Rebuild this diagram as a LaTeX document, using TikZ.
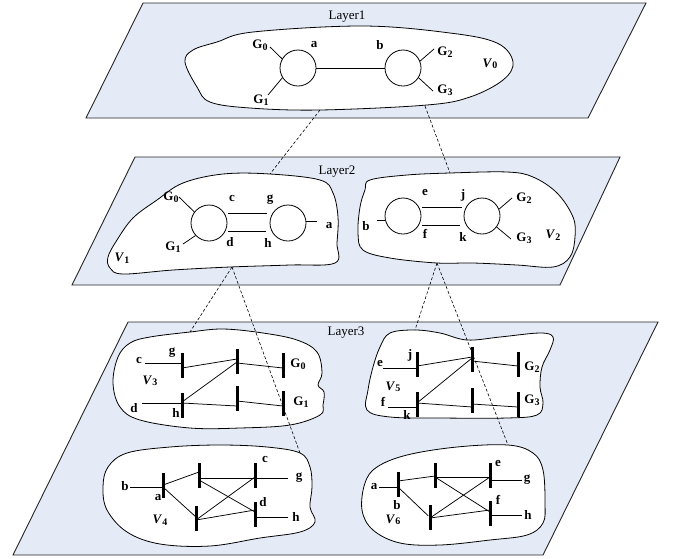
\documentclass[tikz,border=0pt]{standalone}
\usepackage{fontspec}
\setmainfont{Liberation Serif}
\usetikzlibrary{calc}
\definecolor{layerfill}{RGB}{228,235,246}
\newcommand\Gl[1]{G\raisebox{-0.25ex}{\fontsize{10}{10}\selectfont #1}}
\newcommand\Vl[1]{\textit{V}\raisebox{-0.25ex}{\fontsize{10}{10}\selectfont #1}}
\begin{document}
\begin{tikzpicture}[x=1pt,y=-1pt,
 layer/.style={draw=black!85, line width=0.9pt, fill=layerfill},
 blob/.style={draw=black, line width=0.8pt, fill=white},
 lbl/.style={font=\fontsize{13}{15}\selectfont\bfseries, inner sep=0pt},
 laylbl/.style={font=\fontsize{13}{15}\selectfont, inner sep=0pt},
 bus/.style={circle, draw, line width=0.8pt, minimum size=36pt, inner sep=0pt},
 busbar/.style={rectangle, fill=black, minimum width=3pt, minimum height=25pt, inner sep=0pt},
 wire/.style={line width=0.75pt},
 link/.style={line width=0.6pt, dash pattern=on 3pt off 2pt}]
\useasboundingbox (0,0) rectangle (677,558);

% ---------- layers ----------
\draw[layer] (143,3) -- (646,3) -- (588,118) -- (86,118) -- cycle;
\draw[layer] (135,157) -- (620,157) -- (560,285) -- (72,285) -- cycle;
\draw[layer] (128,322) -- (658,322) -- (543,555) -- (13,555) -- cycle;
\node[laylbl] (L1) at (347,17) {Layer1};
\node[laylbl] (L2) at (337,172) {Layer2};
\node[laylbl] (L3) at (346,333) {Layer3};

% ---------- blobs ----------
\draw[blob] plot[smooth cycle, tension=0.6] coordinates {(253,32) (363,26) (450,33) (497,43) (513,62) (503,80) (470,97) (427,105) (320,110) (250,108) (210,102) (197,87) (185,62) (193,50) (217,42)};
\draw[blob] plot[smooth cycle, tension=0.6] coordinates {(270,174) (320,180) (333,193) (338,217) (337,243) (335,263) (290,265) (230,267) (173,270) (123,274) (110,268) (108,257) (117,240) (133,218) (157,200) (183,183) (223,174)};
\draw[blob] plot[smooth cycle, tension=0.6] coordinates {(370,180) (407,175) (450,173) (507,172) (533,177) (557,193) (573,217) (575,237) (570,257) (553,267) (517,265) (473,263) (437,263) (390,258) (363,250) (358,233) (360,207) (365,190)};
\draw[blob] plot[smooth cycle, tension=0.6] coordinates {(150,337) (190,332) (223,329) (263,333) (297,340) (317,352) (322,373) (318,385) (324,392) (323,405) (320,415) (290,425) (240,428) (190,428) (140,420) (120,407) (113,383) (118,357) (130,343)};
\draw[blob] plot[smooth cycle, tension=0.6] coordinates {(390,333) (415,330) (440,333) (467,340) (500,337) (540,333) (553,337) (550,350) (542,367) (540,387) (543,403) (537,415) (507,418) (440,418) (390,417) (367,410) (368,390) (373,367) (380,347)};
\draw[blob] plot[smooth cycle, tension=0.6] coordinates {(127,453) (170,447) (220,445) (267,447) (300,453) (310,467) (312,487) (310,507) (315,522) (300,532) (260,538) (210,546) (160,544) (127,532) (107,510) (103,487) (108,467)};
\draw[blob] plot[smooth cycle, tension=0.6] coordinates {(407,455) (457,447) (508,445) (533,453) (543,470) (545,503) (543,523) (527,535) (490,540) (440,545) (400,543) (373,530) (362,510) (365,483) (377,467)};

% ---------- Layer 1 ----------
\node[bus] (a0) at (298,68) {};
\node[bus] (b0) at (403,68) {};
\draw[wire] (a0) -- (b0);
\coordinate (g0a) at (270,47);
\coordinate (g1a) at (268,95);
\coordinate (g2a) at (434,49);
\coordinate (g3a) at (433,91);
\draw[wire] (a0.150) -- (g0a);
\draw[wire] (a0.212) -- (g1a);
\draw[wire] (b0.22) -- (g2a);
\draw[wire] (b0.-32) -- (g3a);
\node[lbl] (tG0a) at (260,45) {\Gl0};
\node[lbl] (tG1a) at (261,100) {\Gl1};
\node[lbl] (tG2a) at (445,52) {\Gl2};
\node[lbl] (tG3a) at (445,90) {\Gl3};
\node[lbl] (ta0) at (314,45) {a};
\node[lbl] (tb0) at (380,45) {b};
\node[lbl] (tV0) at (490,64) {\Vl0};

% ---------- Layer 2 left ----------
\node[bus] (c1) at (209,223) {};
\node[bus] (g1) at (288,223) {};
\coordinate (cg1s) at (228,213); \coordinate (cg1e) at (267,213);
\coordinate (dh1s) at (228,231); \coordinate (dh1e) at (266,231);
\draw[wire] (cg1s) -- (cg1e);
\draw[wire] (dh1s) -- (dh1e);
\coordinate (a1e) at (317,221);
\draw[wire] (g1.east |- a1e) -- (a1e);
\coordinate (G01e) at (179,197);
\coordinate (G11e) at (183,244);
\draw[wire] (c1.143) -- (G01e);
\draw[wire] (c1.223) -- (G11e);
\node[lbl] (tG01) at (171,197) {\Gl0};
\node[lbl] (tG11) at (173,247) {\Gl1};
\node[lbl] (tc1) at (232,198) {c};
\node[lbl] (tg1) at (270,200) {g};
\node[lbl] (td1) at (230,242) {d};
\node[lbl] (th1) at (268,243) {h};
\node[lbl] (ta1) at (329,226) {a};
\node[lbl] (tV1) at (122,258) {\Vl1};

% ---------- Layer 2 right ----------
\node[bus] (e2) at (403,216) {};
\node[bus] (j2) at (482,216) {};
\coordinate (ej2s) at (422,207); \coordinate (ej2e) at (462,207);
\coordinate (fk2s) at (422,225); \coordinate (fk2e) at (460,225);
\draw[wire] (ej2s) -- (ej2e);
\draw[wire] (fk2s) -- (fk2e);
\coordinate (b2e) at (377,220);
\draw[wire] (b2e) -- (e2.west |- b2e);
\coordinate (G22e) at (512,198);
\coordinate (G32e) at (511,239);
\draw[wire] (j2.22) -- (G22e);
\draw[wire] (j2.-37) -- (G32e);
\node[lbl] (tb2) at (366,226) {b};
\node[lbl] (te2) at (425,192) {e};
\node[lbl] (tj2) at (463,195) {j};
\node[lbl] (tf2) at (425,234) {f};
\node[lbl] (tk2) at (463,237) {k};
\node[lbl] (tG22) at (524,198) {\Gl2};
\node[lbl] (tG32) at (524,238) {\Gl3};
\node[lbl] (tV2) at (553,235) {\Vl2};

% ---------- Layer 3 : V3 ----------
\node[busbar] (g3) at (182,365.5) {};
\node[busbar] (m3a) at (237,361) {};
\node[busbar] (G03) at (283,365.5) {};
\node[busbar] (h3) at (182,405.5) {};
\node[busbar] (m3b) at (237,398) {};
\node[busbar] (G13) at (283,403) {};
\coordinate (c3end) at (145,363);
\coordinate (d3end) at (142,403);
\draw[wire] (c3end) -- ($(g3)+(0,-2.5)$);
\draw[wire] ($(g3)+(0,2.5)$) -- ($(m3a)+(0,-2)$);
\draw[wire] ($(m3a)+(0,2)$) -- ($(G03)+(0,2.5)$);
\draw[wire] ($(h3)+(0,-3.5)$) -- ($(m3a)+(0,1)$);
\draw[wire] (d3end) -- ($(h3)+(0,-2.5)$);
\draw[wire] ($(h3)+(0,-2.5)$) -- ($(m3b)+(0,8)$);
\draw[wire] ($(m3b)+(0,3)$) -- ($(G13)+(0,3)$);
\node[lbl] (tc3) at (139,360) {c};
\node[lbl] (tg3) at (172,353) {g};
\node[lbl] (td3) at (134,408) {d};
\node[lbl] (th3) at (176,413) {h};
\node[lbl] (tG03) at (298,364) {\Gl0};
\node[lbl] (tG13) at (301,402) {\Gl1};
\node[lbl] (tV3) at (150,381) {\Vl3};

% ---------- Layer 3 : V5 ----------
\node[busbar] (j5) at (417,364.5) {};
\node[busbar] (m5a) at (472,359.5) {};
\node[busbar] (G25) at (518,364) {};
\node[busbar] (k5) at (417,404) {};
\node[busbar] (m5b) at (472,400.5) {};
\node[busbar] (G35) at (518,404.5) {};
\coordinate (e5end) at (383,368);
\coordinate (f5end) at (388,407);
\draw[wire] (e5end) -- ($(j5)+(0,3.5)$);
\draw[wire] ($(j5)+(0,1.5)$) -- ($(m5a)+(0,-2.5)$);
\draw[wire] ($(m5a)+(0,1.5)$) -- ($(G25)+(0,2)$);
\draw[wire] ($(k5)+(0,-1)$) -- ($(m5a)+(0,-1.5)$);
\draw[wire] (f5end) -- ($(k5)+(0,3)$);
\draw[wire] ($(k5)+(0,-1)$) -- ($(m5b)+(0,6.5)$);
\draw[wire] ($(m5b)+(0,3.5)$) -- ($(G35)+(0,2.5)$);
\node[lbl] (te5) at (380,363) {e};
\node[lbl] (tj5) at (410,355) {j};
\node[lbl] (tf5) at (383,402) {f};
\node[lbl] (tk5) at (407,415) {k};
\node[lbl] (tG25) at (532,367) {\Gl2};
\node[lbl] (tG35) at (532,400) {\Gl3};
\node[lbl] (tV5) at (393,387) {\Vl5};

% ---------- Layer 3 : V4 ----------
\node[busbar] (a4) at (163,485) {};
\node[busbar] (t4) at (199,475.5) {};
\node[busbar] (b4) at (196,518) {};
\node[busbar] (c4) at (255,475.5) {};
\node[busbar] (d4) at (255,514) {};
\coordinate (b4end) at (130,487);
\coordinate (g4end) at (288,478);
\coordinate (h4end) at (288,517);
\draw[wire] (b4end) -- ($(a4)+(0,2)$);
\draw[wire] (a4) -- ($(t4)+(0,-3.5)$);
\draw[wire] ($(a4)+(0,2)$) -- ($(b4)+(0,-1)$);
\draw[wire] ($(t4)+(0,2.5)$) -- ($(c4)+(0,2.5)$);
\draw[wire] ($(c4)+(0,2.5)$) -- (g4end);
\draw[wire] ($(t4)+(0,4.5)$) -- ($(d4)+(0,-2)$);
\draw[wire] ($(b4)+(0,2)$) -- ($(c4)+(0,1.5)$);
\draw[wire] ($(b4)+(0,2)$) -- ($(d4)+(0,-4)$);
\draw[wire] ($(d4)+(0,3)$) -- (h4end);
\node[lbl] (tb4) at (125,486) {b};
\node[lbl] (ta4) at (158,498) {a};
\node[lbl] (tc4) at (265,459) {c};
\node[lbl] (td4) at (263,502) {d};
\node[lbl] (tg4) at (299,478) {g};
\node[lbl] (th4) at (296,517) {h};
\node[lbl] (tV4) at (160,520) {\Vl4};

% ---------- Layer 3 : V6 ----------
\node[busbar] (b6) at (398,484.5) {};
\node[busbar] (t6) at (435,475.5) {};
\node[busbar] (m6) at (430,517.5) {};
\node[busbar] (e6) at (490,475.5) {};
\node[busbar] (f6) at (490,513) {};
\coordinate (a6end) at (379,487);
\coordinate (g6end) at (522,480);
\coordinate (h6end) at (522,515);
\draw[wire] (a6end) -- ($(b6)+(0,2.5)$);
\draw[wire] ($(b6)+(0,-3.5)$) -- ($(t6)+(0,0.5)$);
\draw[wire] ($(b6)+(0,2.5)$) -- (m6);
\draw[wire] ($(t6)+(0,1.5)$) -- ($(e6)+(0,1.5)$);
\draw[wire] ($(t6)+(0,1.5)$) -- ($(f6)+(0,-1)$);
\draw[wire] ($(m6)+(0,0.5)$) -- ($(e6)+(0,1.5)$);
\draw[wire] ($(m6)+(0,0.5)$) -- ($(f6)+(0,-3)$);
\draw[wire] ($(e6)+(0,4.5)$) -- (g6end);
\draw[wire] ($(f6)+(0,2)$) -- (h6end);
\node[lbl] (ta6) at (374,487) {a};
\node[lbl] (tb6) at (397,505) {b};
\node[lbl] (te6) at (498,463) {e};
\node[lbl] (tf6) at (498,500) {f};
\node[lbl] (tg6) at (527,480) {g};
\node[lbl] (th6) at (528,515) {h};
\node[lbl] (tV6) at (393,520) {\Vl6};

% ---------- inter-layer links ----------
\coordinate (v0l) at (320,110); \coordinate (v1t) at (270,174);
\coordinate (v0r) at (425,106); \coordinate (v2t) at (450,173);
\coordinate (v1b) at (232,267); \coordinate (v3t) at (190,332); \coordinate (v4t) at (300,453);
\coordinate (v2b) at (437,263); \coordinate (v5t) at (415,330); \coordinate (v6t) at (508,445);
\draw[link] (v0l) -- (v1t);
\draw[link] (v0r) -- (v2t);
\draw[link] (v1b) -- (v3t);
\draw[link] (v1b) -- (v4t);
\draw[link] (v2b) -- (v5t);
\draw[link] (v2b) -- (v6t);
\end{tikzpicture}
\end{document}
